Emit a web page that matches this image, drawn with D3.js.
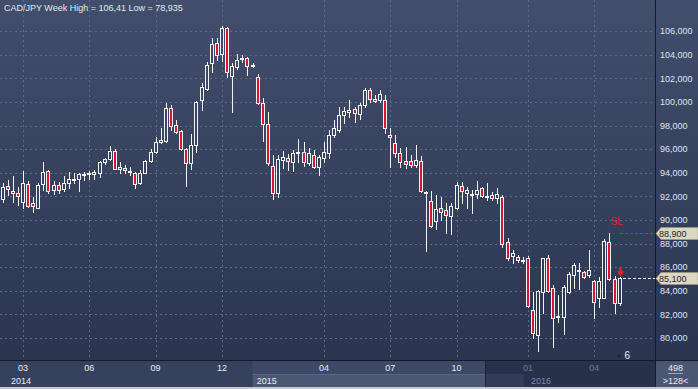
<!DOCTYPE html>
<html><head><meta charset="utf-8">
<script src="https://cdn.jsdelivr.net/npm/d3@7"></script>
<style>html,body{margin:0;padding:0;background:#2b3550;overflow:hidden}svg{display:block}</style>
</head><body><svg id="c" width="698" height="389"></svg>
<script>
// ---------- DATA (weekly CAD/JPY) ----------
const open = [91.75,92.88,92.48,92.26,91.55,93.03,91.42,91.04,93.03,94.15,
 92.54,92.94,92.60,93.11,93.39,93.45,93.84,93.86,93.87,93.96,
 94.92,95.14,95.85,94.35,94.38,94.07,93.96,93.11,94.01,95.03,
 95.76,96.63,96.72,99.47,98.05,97.57,95.99,94.87,96.36,100.17,
 101.10,103.28,104.97,104.04,106.28,102.23,102.99,103.64,103.75,103.12,
 102.14,99.89,98.13,94.58,92.26,95.08,95.23,94.94,95.74,95.79,
 94.86,95.48,94.47,95.23,95.65,97.20,97.63,98.90,99.15,99.38,
 98.98,99.75,101.02,100.25,100.17,100.17,97.20,96.50,95.65,94.97,
 94.97,94.64,94.97,92.28,91.61,89.92,90.99,90.85,90.37,91.04,
 92.88,92.26,92.16,92.18,92.69,91.97,92.12,91.84,91.95,88.16,
 86.97,86.86,86.56,86.80,82.37,80.25,83.92,86.80,84.21,81.84,
 81.75,83.92,85.34,85.74,85.57,85.34,84.86,83.36,83.41,88.16,
 85.00,82.94];
const high = [93.14,93.39,93.73,92.77,94.15,93.31,91.92,93.16,94.89,94.24,
 93.31,93.19,93.73,94.07,93.96,93.96,94.09,94.12,94.24,95.03,
 95.28,96.27,96.02,94.94,94.66,94.52,94.09,94.24,95.08,96.04,
 97.06,97.77,99.89,99.75,98.47,97.63,96.10,97.29,100.08,101.58,
 103.42,105.40,105.45,106.41,106.35,103.28,104.04,103.98,103.84,103.28,
 102.34,100.34,99.18,95.51,95.51,95.85,95.59,95.93,96.84,96.64,
 96.08,95.93,95.51,96.64,97.63,98.47,99.55,99.60,100.17,99.60,
 99.89,101.16,101.16,100.59,101.02,100.59,97.79,97.20,96.08,96.21,
 95.51,96.36,95.42,92.45,92.46,92.12,91.98,91.47,91.42,93.25,
 93.25,92.77,92.54,93.33,92.82,93.16,92.40,92.69,92.12,88.45,
 87.46,87.03,86.89,86.97,83.92,84.07,86.80,87.03,84.49,83.64,
 84.49,85.62,86.33,86.33,85.70,87.46,84.91,85.19,88.36,88.87,
 85.25,85.19];
const low = [91.53,92.12,91.55,91.25,91.04,91.13,90.65,90.99,92.54,92.26,
 92.20,92.31,92.48,92.74,93.11,92.48,93.36,93.45,93.50,93.62,
 94.75,95.08,94.30,94.01,93.96,93.81,92.74,93.03,93.96,94.94,
 95.65,96.50,96.63,97.63,97.35,95.93,92.88,94.36,95.76,99.32,
 101.02,102.57,103.56,103.47,102.14,99.18,102.80,103.42,102.29,102.99,
 99.80,96.69,94.66,91.75,91.98,94.38,94.24,94.18,94.94,94.58,
 94.66,94.38,93.81,94.94,95.23,97.06,97.48,98.24,98.75,98.33,
 98.53,99.60,100.02,100.02,100.00,97.37,94.52,95.36,94.47,94.38,
 94.47,94.52,92.37,87.40,89.43,89.24,90.00,88.92,88.81,90.96,
 91.47,91.04,90.57,91.84,91.98,91.70,91.70,91.47,87.74,86.61,
 86.33,86.41,86.33,82.65,80.03,78.935,82.09,83.92,79.26,81.38,
 80.34,83.79,84.21,84.13,85.06,85.14,81.67,82.65,83.36,84.91,
 82.15,82.80];
const close = [92.77,92.65,92.26,92.03,93.11,91.21,91.19,92.97,94.04,92.48,
 92.94,92.54,93.16,93.45,93.47,93.92,93.92,93.95,94.07,94.92,
 95.14,95.85,94.35,94.49,94.21,94.15,93.03,94.01,95.03,95.74,
 96.61,96.78,99.47,97.99,97.48,96.02,94.81,96.36,99.99,101.30,
 103.14,104.89,103.98,106.30,102.57,103.08,103.56,103.70,103.08,103.14,
 99.89,98.13,94.81,92.26,95.14,95.36,95.00,95.65,95.78,94.94,
 95.65,94.47,95.31,95.79,97.20,97.77,98.90,99.24,99.32,99.04,
 99.75,101.02,100.25,100.08,100.68,97.79,97.01,95.65,94.89,94.72,
 94.64,95.08,92.46,92.36,89.52,90.91,90.70,90.40,91.19,92.97,
 92.48,92.54,92.20,92.54,92.03,92.01,91.86,92.20,87.94,86.75,
 87.18,86.58,86.60,82.71,80.40,83.98,86.75,83.98,81.67,81.88,
 84.30,85.42,86.19,85.78,85.19,85.76,83.08,84.86,88.24,85.00,
 82.94,85.10];

const priceTicks = [80,82,84,86,88,90,92,94,96,98,100,102,104,106];
const monthTickIndex = [4,17,30,43,63,76,89,103,116];
const monthTickLabels = ["03","06","09","12","04","07","10","01","04"];
const yearLabels = ["2014","2015","2016"];
const yearLabelIndex = [0.86,49.04,102.82];
const titleText = "CAD/JPY Week High = 106,41 Low = 78,935";
const stopLevel = 88.90;
const lastClose = 85.10;
const totalBars = "498";
const visibleBars = ">128<";
const markerCount = "6";

// ---------- LAYOUT ----------
const W = 698, H = 389, plotR = 655, plotB = 360, axB = 387;
const FONT = "'Liberation Sans', Arial, sans-serif";
const svg = d3.select("#c");
const x = d3.scaleLinear().domain([0,128]).range([2.6, 2.6 + 5.1*128]);
const y = d3.scaleLinear().domain([80,106]).range([338, 31.2]);
const fmt = v => d3.format(".3f")(v).replace(".", ",");
const fmtK = v => d3.format(",.3f")(v).replace(".", ",");

const defs = svg.append("defs");
const g1 = defs.append("linearGradient").attr("id","bg").attr("gradientUnits","userSpaceOnUse")
  .attr("x1",0).attr("y1",0).attr("x2",0).attr("y2",plotB);
g1.append("stop").attr("offset",0).attr("stop-color","#424e6c");
g1.append("stop").attr("offset",1).attr("stop-color","#2b3550");

// backgrounds
svg.append("rect").attr("x",0).attr("y",0).attr("width",W).attr("height",plotB).attr("fill","url(#bg)");

// horizontal grid
svg.append("g").selectAll("line").data(priceTicks).join("line")
  .attr("x1",0).attr("x2",plotR)
  .attr("y1",d=>Math.round(y(d))+0.5).attr("y2",d=>Math.round(y(d))+0.5)
  .attr("stroke","#5d6a88").attr("stroke-dasharray","2,3");
// vertical grid
svg.append("g").selectAll("line").data(monthTickIndex).join("line")
  .attr("x1",d=>Math.round(x(d))+0.5).attr("x2",d=>Math.round(x(d))+0.5)
  .attr("y1",0).attr("y2",plotB)
  .attr("stroke","#5d6a88").attr("stroke-dasharray","2,3");

// candles
const idx = d3.range(open.length);
const cg = svg.append("g").attr("shape-rendering","crispEdges");
cg.selectAll("line").data(idx).join("line")
  .attr("x1",i=>Math.round(x(i))+0.5).attr("x2",i=>Math.round(x(i))+0.5)
  .attr("y1",i=>Math.round(y(high[i]))).attr("y2",i=>Math.round(y(low[i]))+1)
  .attr("stroke","#f2f2f2").attr("stroke-width",1);
cg.selectAll("rect").data(idx).join("rect")
  .attr("x",i=>Math.round(x(i))-1.5)
  .attr("y",i=>Math.round(y(Math.max(open[i],close[i])))+0.5)
  .attr("width",3)
  .attr("height",i=>Math.max(1, Math.round(y(Math.min(open[i],close[i])))-Math.round(y(Math.max(open[i],close[i])))))
  .attr("fill",i=>close[i]>=open[i] ? "url(#bg)" : "#dc1432")
  .attr("stroke","#f2f2f2").attr("stroke-width",1);

// stop-loss line and label
const last = open.length-1;
const ys = Math.round(y(stopLevel))+0.5;
svg.append("line").attr("x1",Math.round(x(last))).attr("x2",plotR).attr("y1",ys).attr("y2",ys)
  .attr("stroke","#e8202c").attr("stroke-dasharray","3,2");
svg.append("text").attr("x",x(last)-3).attr("y",ys-9).attr("text-anchor","middle")
  .attr("font-family",FONT).attr("font-size","10px").attr("fill","#e8202c").text("SL");
// last price line
const yc = Math.round(y(lastClose))+0.5;
svg.append("line").attr("x1",Math.round(x(last))+3).attr("x2",plotR).attr("y1",yc).attr("y2",yc)
  .attr("stroke","#f0f0f0").attr("stroke-dasharray","3,2");
// red arrow above last candle
const ax = Math.round(x(last))+0.5, at = y(high[last]);
svg.append("path").attr("d",`M${ax-1.2},${at-10} L${ax+1.2},${at-10} L${ax+1.2},${at-5.5} L${ax+3.5},${at-5.5} L${ax},${at} L${ax-3.5},${at-5.5} L${ax-1.2},${at-5.5} Z`)
  .attr("fill","#e8202c");

// bottom marker
svg.append("path").attr("d",`M617,357 L621,357 L619,353.5 Z`).attr("fill","#1d2435");
svg.append("text").attr("x",624.5).attr("y",359).attr("font-family",FONT).attr("font-size","10px")
  .attr("fill","#e6ebf3").text(markerCount);

// right axis panel separator
svg.append("line").attr("x1",plotR+0.5).attr("x2",plotR+0.5).attr("y1",0).attr("y2",axB).attr("stroke","#141a28");
// price labels
svg.append("g").selectAll("text").data(priceTicks).join("text")
  .attr("x",660).attr("y",d=>y(d)).attr("dy","0.35em")
  .attr("font-family",FONT).attr("font-size","9px").attr("fill","#dfe5f0")
  .text(d=>fmtK(d*1000).replace(/,(\d{3}),000$/,",$1").replace(/^(\d+),(\d{3})$/,"$1,$2"))
  .text(d=>fmt(d).replace(/^(\d+),(\d+)$/, (m,a,b)=>a+","+b));

// price tags
function tag(v, yy) {
  const g = svg.append("g");
  g.append("path").attr("d",`M656,${yy} L661,${yy-6} L698,${yy-6} L698,${yy+6} L661,${yy+6} Z`)
    .attr("fill","#dcd8c0").attr("stroke","#9e9a85").attr("stroke-width",0.6);
  g.append("text").attr("x",659).attr("y",yy).attr("dy","0.35em")
    .attr("font-family",FONT).attr("font-size","9px").attr("fill","#1b2236").text(fmt(v));
}
tag(stopLevel, ys);
tag(lastClose, yc);

// bottom axis
svg.append("line").attr("x1",0).attr("x2",W).attr("y1",plotB+0.5).attr("y2",plotB+0.5).attr("stroke","#141a28");
const ax0 = plotB+1, rowMid = 374, hlStart = x(49.04), hlEnd = x(94.6), y16 = x(102.2);
svg.append("rect").attr("x",0).attr("y",ax0).attr("width",plotR).attr("height",axB-ax0).attr("fill","#36425d");
svg.append("rect").attr("x",hlStart).attr("y",ax0).attr("width",hlEnd-hlStart).attr("height",rowMid-ax0).attr("fill","#3d4966");
svg.append("rect").attr("x",hlStart).attr("y",rowMid).attr("width",hlEnd-hlStart).attr("height",axB-rowMid).attr("fill","#4b5874");
svg.append("line").attr("x1",hlStart).attr("x2",hlEnd).attr("y1",rowMid+0.5).attr("y2",rowMid+0.5).attr("stroke","#5a6783");
svg.append("rect").attr("x",hlEnd).attr("y",ax0).attr("width",plotR-hlEnd).attr("height",axB-ax0).attr("fill","#273149");
svg.append("rect").attr("x",hlEnd).attr("y",rowMid).attr("width",y16-hlEnd).attr("height",axB-rowMid).attr("fill","#323c56");
svg.append("line").attr("x1",Math.round(hlEnd)+0.5).attr("x2",Math.round(hlEnd)+0.5).attr("y1",ax0).attr("y2",axB).attr("stroke","#1c2334");

svg.append("g").selectAll("text").data(monthTickIndex).join("text")
  .attr("x",d=>x(d)).attr("y",368).attr("dy","0.35em").attr("text-anchor","middle")
  .attr("font-family",FONT).attr("font-size","9px")
  .attr("fill",d=>x(d)>hlEnd ? "#6d7b98" : "#e8ecf4")
  .text((d,i)=>monthTickLabels[i]);
svg.append("g").selectAll("text").data(yearLabelIndex).join("text")
  .attr("x",d=>x(d)+4).attr("y",381).attr("dy","0.35em")
  .attr("font-family",FONT).attr("font-size","9px")
  .attr("fill",d=>x(d)>hlEnd ? "#7d8aa6" : "#e8ecf4")
  .text((d,i)=>yearLabels[i]);

// corner box
svg.append("rect").attr("x",plotR+1).attr("y",ax0).attr("width",W-plotR-1).attr("height",axB-ax0).attr("fill","#4a5672");
svg.append("text").attr("x",675.5).attr("y",367.5).attr("dy","0.35em").attr("text-anchor","middle")
  .attr("font-family",FONT).attr("font-size","9px").attr("fill","#e8ecf4").text(totalBars);
svg.append("line").attr("x1",668).attr("x2",683).attr("y1",373.5).attr("y2",373.5).attr("stroke","#9aa4b8");
svg.append("text").attr("x",675.5).attr("y",380.5).attr("dy","0.35em").attr("text-anchor","middle")
  .attr("font-family",FONT).attr("font-size","9px").attr("fill","#e8ecf4").text(visibleBars);

// bottom border
svg.append("rect").attr("x",0).attr("y",axB).attr("width",W).attr("height",H-axB).attr("fill","#c3c9d5");

// title
svg.append("text").attr("x",4).attr("y",11).attr("font-family",FONT).attr("font-size","9px")
  .attr("fill","#e3e8f2").text(titleText);
</script></body></html>
